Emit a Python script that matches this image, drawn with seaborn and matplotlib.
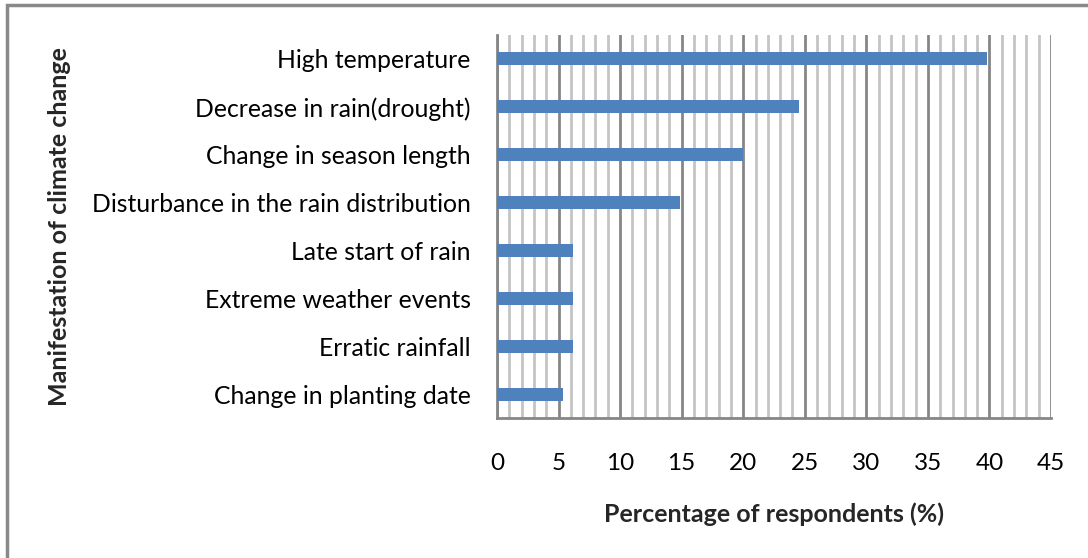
import pandas as pd
import matplotlib.pyplot as plt
import seaborn as sns
from matplotlib.ticker import MultipleLocator, FixedLocator
from matplotlib.patches import Rectangle

# Data (top to bottom)
manifestations = ['High temperature', 'Decrease in rain(drought)', 'Change in season length',
                  'Disturbance in the rain distribution', 'Late start of rain',
                  'Extreme weather events', 'Erratic rainfall', 'Change in planting date']
percentages = [39.8, 24.5, 20.0, 14.9, 6.2, 6.2, 6.2, 5.4]

df = pd.DataFrame({'manifestation': manifestations, 'percent': percentages})

sns.set_style("white")
plt.rcParams['font.family'] = ['Lato', 'DejaVu Sans']

fig = plt.figure(figsize=(10.88, 5.58), dpi=100)
ax = fig.add_axes([497 / 1088, 1 - 418 / 558, 554 / 1088, 383 / 558])

sns.barplot(x='percent', y='manifestation', data=df, orient='h', color='#4F81BD',
            saturation=1, width=0.27, linewidth=0, ax=ax, zorder=3)

ax.set_xlim(0, 45)
ax.set_ylim(7.5, -0.5)
ax.xaxis.set_major_locator(MultipleLocator(5))
ax.xaxis.set_minor_locator(FixedLocator([v for v in range(46) if v % 5 != 0]))
ax.grid(which='major', axis='x', color='#868686', linewidth=2, zorder=0)
ax.grid(which='minor', axis='x', color='#C4C4C4', linewidth=2, zorder=0)
ax.grid(False, axis='y')
ax.set_axisbelow(True)

for s in ['top', 'right']:
    ax.spines[s].set_visible(False)
for s in ['bottom', 'left']:
    ax.spines[s].set_color('#868686')
    ax.spines[s].set_linewidth(2)

ax.tick_params(axis='x', which='major', length=6, width=1.5, color='#868686',
               labelsize=17.5, pad=19, labelcolor='black')
ax.tick_params(axis='x', which='minor', length=0)
ax.tick_params(axis='y', length=0, labelsize=17.8, pad=19, labelcolor='black')

ax.set_xlabel('Percentage of respondents (%)', fontsize=18, fontweight='bold')
ax.set_ylabel('Manifestation of climate change', fontsize=18, fontweight='bold')
ax.xaxis.set_label_coords(0.5, -0.22)
ax.yaxis.set_label_coords(-0.769, 0.5)

# outer frame around the chart (left and top edges visible)
fig.patches.append(Rectangle((7 / 1088, -0.02), 1.05, 1.02 - 5 / 558,
                             transform=fig.transFigure, fill=False,
                             edgecolor='#898989', linewidth=2.5))

fig.savefig('out.png', dpi=100)
